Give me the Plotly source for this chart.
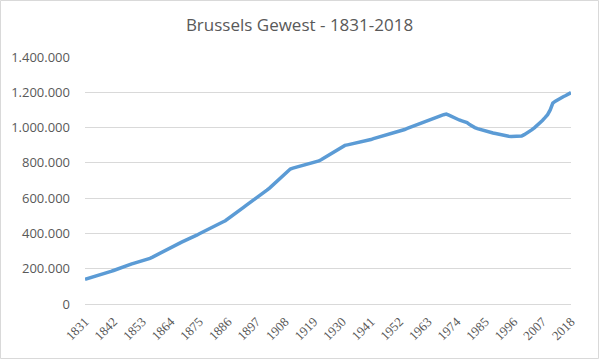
import plotly.graph_objects as go

title_text = "Brussels Gewest - 1831-2018"

years = list(range(1831, 2019))

# population in thousands (one value per year)
population_k = [
    140, 144, 148, 152, 157, 162, 166, 171, 176, 181,
    185, 190, 196, 202, 207, 212, 218, 223, 227, 232,
    236, 240, 244, 248, 252, 259, 266, 274, 282, 290,
    298, 305, 313, 321, 329, 336, 342, 349, 356, 362,
    368, 374, 382, 390, 398, 406, 414, 421, 429, 436,
    443, 450, 458, 465, 472, 482, 492, 502, 513, 525,
    538, 548, 559, 569, 580, 590, 600, 610, 621, 633,
    645, 657, 670, 682, 696, 710, 724, 738, 752, 765,
    770, 774, 778, 782, 785, 789, 793, 797, 800, 804,
    811, 819, 828, 837, 846, 856, 866, 876, 886, 895,
    899, 902, 905, 908, 911, 913, 916, 920, 924, 927,
    932, 937, 941, 945, 950, 954, 958, 962, 966, 970,
    974, 978, 983, 989, 995, 1001, 1006, 1012, 1018, 1024,
    1030, 1036, 1042, 1048, 1053, 1058, 1063, 1068, 1073, 1076,
    1070, 1062, 1054, 1049, 1043, 1038, 1034, 1028, 1017, 1006,
    1000, 994, 989, 984, 980, 976, 972, 969, 966, 962,
    958, 954, 952, 951, 950, 950, 950, 950, 952, 960,
    968, 976, 988, 1000, 1012, 1025, 1040, 1056, 1073, 1100,
    1139, 1150, 1160, 1167, 1175, 1182, 1191, 1198,
]
population = [v * 1000 for v in population_k]

x_tick_years = list(range(1831, 2019, 11))
y_tick_values = [0, 200000, 400000, 600000, 800000, 1000000, 1200000, 1400000]
y_tick_labels = ["0", "200.000", "400.000", "600.000", "800.000",
                 "1.000.000", "1.200.000", "1.400.000"]

fig = go.Figure()
fig.add_trace(go.Scatter(
    x=years, y=population, mode="lines",
    line=dict(color="#5b9bd5", width=3.5),
    hoverinfo="x+y",
))

W, H = 599, 359
ml, mr, mt, mb = 85, 28, 57, 55
pw, ph = W - ml - mr, H - mt - mb

fig.update_layout(
    width=W, height=H,
    margin=dict(l=ml, r=mr, t=mt, b=mb),
    paper_bgcolor="white", plot_bgcolor="white",
    showlegend=False,
    title=dict(text=title_text, x=0.5, xanchor="center", y=1 - 25 / H, yanchor="middle",
               font=dict(family="Open Sans", size=17, color="#595959")),
    xaxis=dict(
        range=[1831, 2018], tickmode="array", tickvals=x_tick_years,
        ticktext=[str(y) for y in x_tick_years], tickangle=-45,
        showgrid=False, zeroline=False, showline=True, linecolor="#d9d9d9", linewidth=1,
        ticks="", ticklabelstandoff=4,
        tickfont=dict(family="Liberation Serif", size=13, color="#595959"),
    ),
    yaxis=dict(
        range=[0, 1400000], tickmode="array", tickvals=y_tick_values, ticktext=y_tick_labels,
        showgrid=True, gridcolor="#d9d9d9", gridwidth=1, zeroline=False, showline=False,
        ticks="", ticklabelstandoff=14,
        tickfont=dict(family="Open Sans", size=13, color="#595959"),
    ),
    shapes=[dict(
        type="rect", xref="paper", yref="paper",
        x0=(0.5 - ml) / pw, x1=(W - 0.5 - ml) / pw,
        y0=-(mb - 0.5) / ph, y1=(mt - 0.5 + ph) / ph,
        line=dict(color="#d9d9d9", width=1), fillcolor="rgba(0,0,0,0)", layer="below",
    )],
)

fig.write_html(
    "out.html",
    config={"displayModeBar": False},
    post_script="document.body.style.margin='0';document.body.style.overflow='hidden';",
)
